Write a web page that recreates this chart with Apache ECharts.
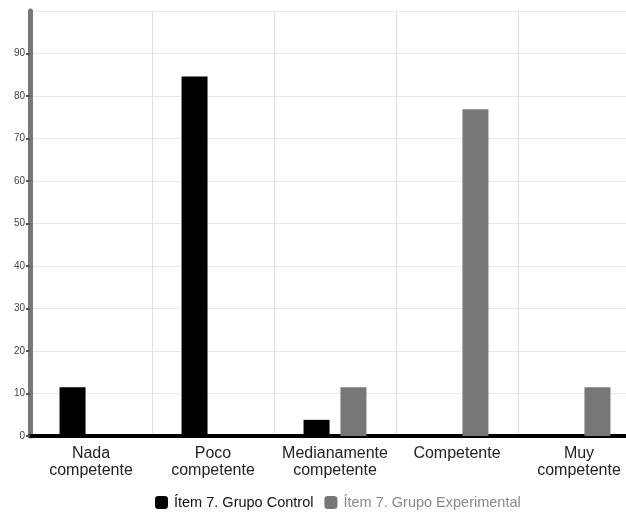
<!DOCTYPE html>
<html><head><meta charset="utf-8">
<script src="https://cdn.jsdelivr.net/npm/echarts@6/dist/echarts.min.js"></script>
<style>html,body{margin:0;padding:0;background:#fff;overflow:hidden;width:626px;height:513px}#c{width:640px;height:513px}</style>
</head><body><div id="c"></div>
<script>
var categories = ["Nada\ncompetente", "Poco\ncompetente", "Medianamente\ncompetente", "Competente", "Muy\ncompetente"];
var seriesNames = ["Ítem 7. Grupo Control", "Ítem 7. Grupo Experimental"];
var controlValues = [11.5, 84.6, 3.8, 0, 0];
var experimentalValues = [0, 0, 11.5, 76.9, 11.5];
var chart = echarts.init(document.getElementById('c'));
chart.setOption({
  animation: false,
  grid: {left: 30, right: 0, top: 11, bottom: 77},
  legend: {
    top: 495, left: 155, padding: 0, itemWidth: 13, itemHeight: 13, itemGap: 11,
    icon: 'roundRect',
    textStyle: {fontFamily: 'Liberation Sans, Arial', fontSize: 14.5, padding: [0, 0, 0, 1]},
    data: [
      {name: seriesNames[0], textStyle: {color: '#111'}},
      {name: seriesNames[1], textStyle: {color: '#888'}}
    ]
  },
  xAxis: {
    type: 'category', data: categories,
    axisLine: {lineStyle: {color: '#000', width: 4}},
    axisTick: {alignWithLabel: true, length: 5, lineStyle: {color: '#000', width: 2}},
    axisLabel: {color: '#222', fontSize: 16, fontFamily: 'Liberation Sans, Arial', lineHeight: 17, margin: 9, interval: 0},
    splitLine: {show: true, lineStyle: {color: '#e0e0e0', width: 1}}
  },
  yAxis: {
    type: 'value', min: 0, max: 100, interval: 10,
    axisLine: {show: true, lineStyle: {color: '#777', width: 5}},
    axisTick: {show: true, length: 4, lineStyle: {color: '#555', width: 2}},
    axisLabel: {color: '#444', fontSize: 10, fontFamily: 'Liberation Sans, Arial', margin: 5, showMaxLabel: false},
    splitLine: {show: true, lineStyle: {color: '#eaeaea', width: 1}}
  },
  series: [
    {name: seriesNames[0], type: 'bar', data: controlValues, barWidth: 26, barGap: '42%', itemStyle: {color: '#000'}},
    {name: seriesNames[1], type: 'bar', data: experimentalValues, barWidth: 26, itemStyle: {color: '#777'}}
  ]
});
</script></body></html>
